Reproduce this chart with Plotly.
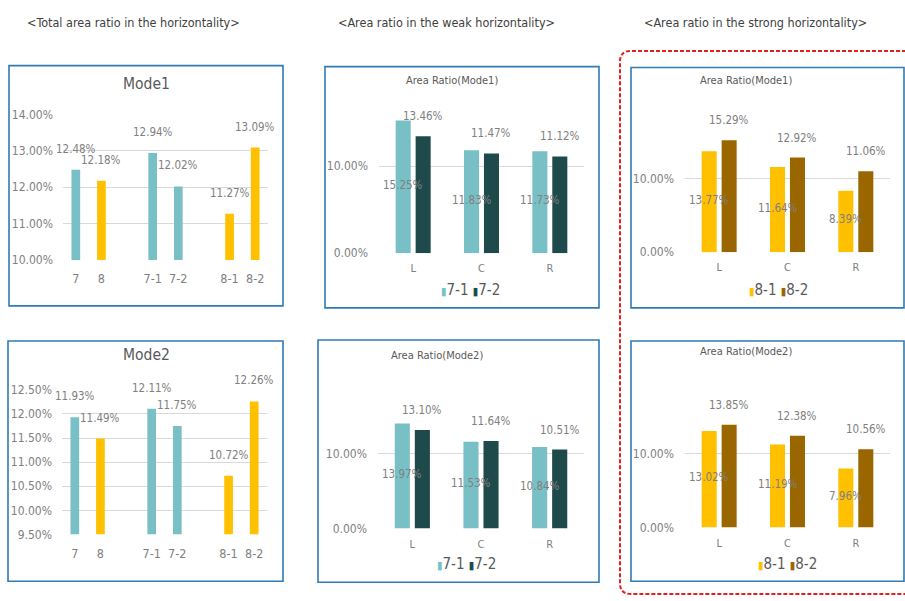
import plotly.graph_objects as go

# ---------------- data ----------------
total_cats = ["7", "8", "7-1", "7-2", "8-1", "8-2"]
total_mode1 = [12.48, 12.18, 12.94, 12.02, 11.27, 13.09]
total_mode2 = [11.93, 11.49, 12.11, 11.75, 10.72, 12.26]

regions = ["L", "C", "R"]
weak_mode1_71 = [15.25, 11.83, 11.73]
weak_mode1_72 = [13.46, 11.47, 11.12]
weak_mode2_71 = [13.97, 11.53, 10.84]
weak_mode2_72 = [13.10, 11.64, 10.51]
strong_mode1_81 = [13.77, 11.64, 8.39]
strong_mode1_82 = [15.29, 12.92, 11.06]
strong_mode2_81 = [13.02, 11.19, 7.96]
strong_mode2_82 = [13.85, 12.38, 10.56]

headings = ["&lt;Total area ratio in the horizontality&gt;",
            "&lt;Area ratio in the weak horizontality&gt;",
            "&lt;Area ratio in the strong horizontality&gt;"]

# ---------------- style / layout ----------------
W, H = 905, 601
FONT = "Liberation Sans Narrow, DejaVu Sans Condensed, Arial Narrow, sans-serif"
TEAL = "#78C0C6"
DARK = "#1F4A4C"
YEL = "#FFC000"
BROWN = "#996600"
GRID = "#D9D9D9"
TXT = "#808080"
BOX = "#2F7BB5"

total_slots = [0, 1, 3, 4, 6, 7]          # slot layout on the total charts
total_colors = [TEAL, YEL, TEAL, TEAL, YEL, YEL]


def px(x):
    return x / W


def py(y):
    return 1 - y / H


def ydomain(r0, r1, p0, pref, ref):
    k = (p0 - pref) / (ref - r0)
    top = p0 - (r1 - r0) * k
    return [1 - p0 / H, 1 - top / H]


fig = go.Figure()
annotations = []
shapes = []

# panel boxes
boxes = [(9, 60, 283, 306), (8, 342, 283, 588), (325, 61, 599, 308),
         (318, 341, 599, 589), (631, 62, 904, 308), (631, 342, 904, 588)]
for x0, y0, x1, y1 in boxes:
    shapes.append(dict(type="rect", xref="paper", yref="paper",
                       x0=px(x0), x1=px(x1), y0=py(y1), y1=py(y0),
                       line=dict(color=BOX, width=1.6), fillcolor="rgba(0,0,0,0)", layer="below"))

# red dashed rounded frame
path = (f"M {px(906)},{py(45)} L {px(631)},{py(45)} Q {px(620)},{py(45)} {px(620)},{py(56)} "
        f"L {px(620)},{py(590)} Q {px(620)},{py(601)} {px(631)},{py(601)} L {px(906)},{py(601)}")
shapes.append(dict(type="path", xref="paper", yref="paper", path=path,
                   line=dict(color="#E0201E", width=2, dash="4px,2px")))

# headings
for txt, cx in zip(headings, [133, 446, 755]):
    annotations.append(dict(xref="paper", yref="paper", x=px(cx), y=py(16), text=txt,
                            showarrow=False, xanchor="center", yanchor="middle",
                            font=dict(family=FONT, size=12.5, color="#404040")))

axis_common = dict(showgrid=False, zeroline=False, showline=False, fixedrange=True)


def add_axes(n, xr, xpx, yr, ydom, tickvals_x, ticktext_x, xfont, ytickvals, ystand, xstand):
    xa = "xaxis" if n == 1 else f"xaxis{n}"
    ya = "yaxis" if n == 1 else f"yaxis{n}"
    fig.layout[xa] = dict(axis_common, domain=[px(xpx[0]), px(xpx[1])], range=xr,
                          anchor=f"y{'' if n == 1 else n}", tickmode="array",
                          tickvals=tickvals_x, ticktext=ticktext_x, ticks="",
                          ticklabelstandoff=xstand,
                          tickfont=dict(family=FONT, size=xfont, color=TXT))
    fig.layout[ya] = dict(axis_common, domain=ydom, range=yr,
                          anchor=f"x{'' if n == 1 else n}", tickmode="array",
                          tickvals=ytickvals, ticktext=[f"{v:.2f}%" for v in ytickvals],
                          showgrid=True, gridcolor=GRID, gridwidth=1.3, ticks="",
                          ticklabelstandoff=ystand,
                          tickfont=dict(family=FONT, size=12, color=TXT))


def total_panel(n, vals, title, xpx, yr, p0, pref, ref, ytv, title_xy):
    xs = [total_slots[i] for i in range(len(vals))]
    fig.add_trace(go.Bar(x=xs, y=[v - yr[0] for v in vals], base=yr[0], width=0.34,
                         marker=dict(color=total_colors, line=dict(width=0)),
                         name=title, showlegend=False, hoverinfo="skip",
                         xaxis=f"x{'' if n == 1 else n}", yaxis=f"y{'' if n == 1 else n}"))
    add_axes(n, [-0.5, 7.5], xpx, yr, ydomain(yr[0], yr[1], p0, pref, ref),
             xs, total_cats, 12.5, ytv, 9, 10)
    ref_x = "x" if n == 1 else f"x{n}"
    ref_y = "y" if n == 1 else f"y{n}"
    for x, v in zip(xs, vals):
        annotations.append(dict(xref=ref_x, yref=ref_y, x=x, y=v, yshift=21, text=f"{v:.2f}%",
                                showarrow=False, xanchor="center", yanchor="middle",
                                font=dict(family=FONT, size=11.5, color=TXT)))
    annotations.append(dict(xref="paper", yref="paper", x=px(title_xy[0]), y=py(title_xy[1] - 4),
                            text=title, showarrow=False, xanchor="center", yanchor="middle",
                            font=dict(family=FONT, size=15.5, color="#595959")))


def pair_panel(n, s1, s2, names, colors, title, xpx, p0, pref, ymax, title_xy, legend_xy):
    ref_x = "x" if n == 1 else f"x{n}"
    ref_y = "y" if n == 1 else f"y{n}"
    xs = list(range(len(regions)))
    off = 0.146
    w = 0.22
    for vals, nm, col, sgn in [(s1, names[0], colors[0], -1), (s2, names[1], colors[1], 1)]:
        fig.add_trace(go.Bar(x=xs, y=vals, width=w, offset=sgn * off - w / 2,
                             marker=dict(color=col, line=dict(width=0)), name=nm,
                             showlegend=False, hoverinfo="skip", xaxis=ref_x, yaxis=ref_y))
    add_axes(n, [-0.5, 2.5], xpx, [0, ymax], ydomain(0, ymax, p0, pref, 10),
             xs, regions, 11, [0, 10], 10, 7)
    for x, v in zip(xs, s1):
        annotations.append(dict(xref=ref_x, yref=ref_y, x=x - off, y=v / 2, yshift=2, text=f"{v:.2f}%",
                                showarrow=False, xanchor="center", yanchor="middle",
                                font=dict(family=FONT, size=11.5, color=TXT)))
    for x, v in zip(xs, s2):
        annotations.append(dict(xref=ref_x, yref=ref_y, x=x + off, y=v, yshift=20, text=f"{v:.2f}%",
                                showarrow=False, xanchor="center", yanchor="middle",
                                font=dict(family=FONT, size=11.5, color=TXT)))
    annotations.append(dict(xref="paper", yref="paper", x=px(title_xy[0]), y=py(title_xy[1] - 4),
                            text=title, showarrow=False, xanchor="center", yanchor="middle",
                            font=dict(family=FONT, size=11, color="#595959")))
    leg = (f"<span style='color:{colors[0]};font-size:11px'>▮</span>{names[0]} "
           f"<span style='color:{colors[1]};font-size:11px'>▮</span>{names[1]}")
    annotations.append(dict(xref="paper", yref="paper", x=px(legend_xy[0]), y=py(legend_xy[1]),
                            text=leg, showarrow=False, xanchor="center", yanchor="middle",
                            font=dict(family=FONT, size=15, color="#595959")))


total_panel(1, total_mode1, "Mode1", (63, 268), [10, 14], 259, 110, 14, [10, 11, 12, 13, 14], (146, 83))
total_panel(2, total_mode2, "Mode2", (62, 267), [9.5, 12.5], 540, 392, 12.5,
            [9.5, 10, 10.5, 11, 11.5, 12, 12.5], (146, 360))
pair_panel(3, weak_mode1_71, weak_mode1_72, ["7-1", "7-2"], [TEAL, DARK], "Area Ratio(Mode1)",
           (379, 584), 252, 163, 16, (452, 79), (470, 290))
pair_panel(4, weak_mode2_71, weak_mode2_72, ["7-1", "7-2"], [TEAL, DARK], "Area Ratio(Mode2)",
           (378, 584), 534, 457, 16, (437, 361), (466, 570))
pair_panel(5, strong_mode1_81, strong_mode1_82, ["8-1", "8-2"], [YEL, BROWN], "Area Ratio(Mode1)",
           (685, 890), 251, 176, 17, (746, 79), (778, 290))
pair_panel(6, strong_mode2_81, strong_mode2_82, ["8-1", "8-2"], [YEL, BROWN], "Area Ratio(Mode2)",
           (685, 890), 533, 457, 16, (746, 357), (787, 570))

fig.update_layout(width=W, height=H, margin=dict(l=0, r=0, t=0, b=0),
                  paper_bgcolor="white", plot_bgcolor="rgba(0,0,0,0)",
                  barmode="overlay", showlegend=False,
                  annotations=annotations, shapes=shapes,
                  font=dict(family=FONT, color=TXT))

fig.write_html("out.html")
